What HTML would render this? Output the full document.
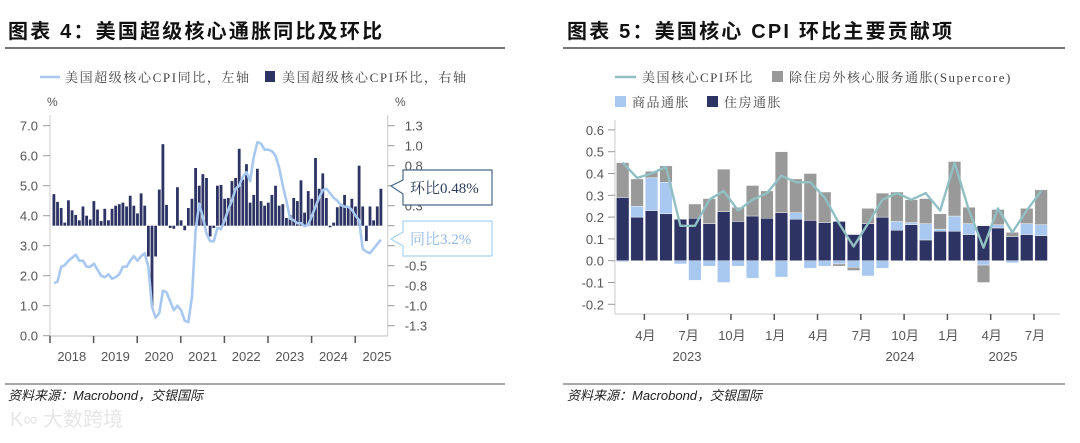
<!DOCTYPE html>
<html><head><meta charset="utf-8">
<style>
html,body{margin:0;padding:0;background:#fff;}
body{width:1080px;height:438px;overflow:hidden;font-family:"Liberation Sans","Noto Sans CJK SC",sans-serif;}
svg text{font-family:"Liberation Sans","Noto Sans CJK SC",sans-serif;}
.ser{font-family:"Liberation Serif","Noto Serif CJK SC",serif;}
</style></head>
<body>
<svg id="s" width="1080" height="438" viewBox="0 0 1080 438" xmlns="http://www.w3.org/2000/svg">
  <g>
    <text x="8" y="38" font-size="20" font-weight="bold" letter-spacing="2.2" fill="#111">图表 4：美国超级核心通胀同比及环比</text>
    <line x1="5" y1="48" x2="505" y2="48" stroke="#222" stroke-width="1.2"/>
    <line x1="5" y1="384" x2="505" y2="384" stroke="#888" stroke-width="1.5"/>
    <text x="8" y="400" font-size="13" font-style="italic" fill="#222">资料来源：Macrobond，交银国际</text>
    <text x="10" y="426" font-size="20" fill="#e6e6e6">K∞ 大数跨境</text>
  </g>
  <g>
    <text x="567" y="38" font-size="20" font-weight="bold" letter-spacing="2.2" fill="#111">图表 5：美国核心 CPI 环比主要贡献项</text>
    <line x1="563" y1="48" x2="1065" y2="48" stroke="#222" stroke-width="1.2"/>
    <line x1="563" y1="384" x2="1065" y2="384" stroke="#888" stroke-width="1.5"/>
    <text x="567" y="400" font-size="13" font-style="italic" fill="#222">资料来源：Macrobond，交银国际</text>
  </g>
  <g id="left"></g>
  <g id="right"></g>
</svg>
<script>
// ---------- Left chart data ----------
const leftYears = ["2018","2019","2020","2021","2022","2023","2024","2025"];
const leftTicksL = ["0.0","1.0","2.0","3.0","4.0","5.0","6.0","7.0"];
const leftTicksR = ["-1.3","-1.0","-0.8","-0.5","-0.3","0.0","0.3","0.5","0.8","1.0","1.3"];
const superMoM = [
 0.41,0.31,0.23,0.04,0.33,0.20,0.14,0.07,0.25,0.13,0.08,0.32,
 0.21,0.06,0.22,0.07,0.22,0.26,0.28,0.30,0.25,0.39,0.26,0.16,
 0.42,0.26,-0.40,-1.05,-0.40,0.47,1.06,0.27,-0.03,-0.04,0.50,0.07,
 -0.06,0.23,0.35,0.75,0.52,0.67,0.62,-0.14,-0.03,0.52,0.53,0.35,
 0.36,0.58,0.62,1.00,0.60,0.80,0.30,0.40,0.74,0.32,0.26,0.30,
 0.40,0.52,0.26,0.28,0.10,0.14,0.36,0.32,0.59,0.17,0.45,0.35,
 0.88,0.48,0.68,0.36,-0.02,0.04,0.24,0.27,0.40,0.24,0.35,0.25,
 0.78,0.25,-0.20,0.25,0.07,0.25,0.48];
const superYoY = [
 1.75,1.8,2.3,2.35,2.5,2.6,2.7,2.5,2.5,2.3,2.3,2.4,
 2.2,2.0,1.95,2.05,1.9,1.95,2.05,2.3,2.3,2.5,2.65,2.5,
 2.65,2.75,2.3,0.95,0.6,0.75,1.5,1.45,1.15,0.85,1.0,0.85,
 0.5,0.45,1.3,3.5,4.4,3.95,3.4,3.15,3.15,3.6,3.55,3.85,
 4.2,4.5,4.9,5.0,5.3,5.45,5.15,5.95,6.45,6.4,6.2,6.2,
 6.15,6.0,5.6,5.0,4.5,3.9,3.85,3.75,3.75,3.65,3.7,4.0,
 4.3,4.6,4.85,4.9,4.75,4.6,4.5,4.35,4.3,4.3,4.2,4.0,
 3.85,2.9,2.8,2.75,2.9,3.05,3.2];

// ---------- Right chart data ----------
const rightMonths = ["4月","7月","10月","1月","4月","7月","10月","1月","4月","7月"];
const rightYears = ["2023","2024","2025"];
const rightTicks = ["-0.2","-0.1","0.0","0.1","0.2","0.3","0.4","0.5","0.6"];
const housing = [0.29,0.20,0.23,0.215,0.19,0.195,0.17,0.225,0.18,0.205,0.195,0.22,0.19,0.185,0.175,0.18,0.12,0.17,0.20,0.14,0.165,0.095,0.135,0.135,0.12,0.16,0.15,0.11,0.12,0.115];
const goods   = [-0.005,0.05,0.15,0.145,-0.015,-0.09,-0.025,-0.10,-0.025,-0.08,0.0,-0.075,0.03,-0.035,-0.025,-0.015,-0.03,-0.07,-0.035,0.04,0.01,0.075,0.01,0.07,0.05,-0.02,0.015,-0.01,0.05,0.05];
const supercore=[0.16,0.125,0.03,0.075,0.0,0.065,0.115,0.195,0.065,0.14,0.125,0.28,0.155,0.215,0.14,-0.01,-0.015,0.07,0.11,0.135,0.105,0.115,0.07,0.25,0.075,-0.08,0.07,0.02,0.07,0.16];
const coreMoM = [0.45,0.38,0.40,0.43,0.16,0.16,0.28,0.32,0.23,0.28,0.31,0.39,0.36,0.36,0.29,0.17,0.065,0.17,0.28,0.31,0.28,0.31,0.23,0.45,0.23,0.06,0.24,0.13,0.23,0.32];

const NS="http://www.w3.org/2000/svg";
function mk(parent, tag, attrs, text){
  const e=document.createElementNS(NS,tag);
  for(const k in attrs) e.setAttribute(k,attrs[k]);
  if(text!==undefined) e.textContent=text;
  parent.appendChild(e); return e;
}

// ===== LEFT =====
(function(){
  const g=document.getElementById('left');
  const x0=50, x1=387.7, yTop=115, yBot=336;
  const monthW=43.6/12;
  const xm=i=>x0+3.9+i*monthW;
  const yL=v=>335.7-v*30;
  const yR=v=>225.7-v*(20/0.26);
  const lg=mk(g,'g',{});
  
  
  mk(lg,'line',{x1:40,y1:77,x2:60,y2:77,stroke:'#a9c8f0','stroke-width':2.5});
  mk(lg,'text',{x:65,y:82,'font-size':13,fill:'#444','class':'ser','letter-spacing':1.6},'美国超级核心CPI同比，左轴');
  mk(lg,'rect',{x:265,y:71,width:10,height:11,fill:'#2d3463'});
  mk(lg,'text',{x:282,y:82,'font-size':13,fill:'#444','class':'ser','letter-spacing':1.6},'美国超级核心CPI环比，右轴');
  mk(g,'text',{x:47,y:106,'font-size':12,fill:'#555'},'%');
  mk(g,'text',{x:395,y:106,'font-size':12,fill:'#555'},'%');
  mk(g,'line',{x1:x0,y1:yTop,x2:x0,y2:yBot,stroke:'#ccc'});
  mk(g,'line',{x1:x1,y1:yTop,x2:x1,y2:yBot,stroke:'#ccc'});
  mk(g,'line',{x1:x0,y1:yBot,x2:x1,y2:yBot,stroke:'#bbb'});
  leftTicksL.forEach((t,i)=>{
    const y=yL(parseFloat(t));
    mk(g,'line',{x1:x0-7,y1:y,x2:x0,y2:y,stroke:'#999'});
    const tx=mk(g,'text',{x:x0-12,y:y+5,'font-size':13,fill:'#555','text-anchor':'end'},t);
    
    
  });
  leftTicksR.forEach((t,i)=>{
    const y=125.7+ (10-i)*20;
    mk(g,'line',{x1:x1,y1:y,x2:x1+7,y2:y,stroke:'#999'});
    const tx=mk(g,'text',{x:x1+17,y:y+5,'font-size':13,fill:'#555'},t);
    
    
  });
  leftYears.forEach((yr,i)=>{
    const xt=x0+i*43.6;
    mk(g,'line',{x1:xt,y1:yBot,x2:xt,y2:yBot+7,stroke:'#555','stroke-width':1.5});
    const tx=mk(g,'text',{x:xt+21.8,y:361,'font-size':13,fill:'#555','text-anchor':'middle'},yr);
    
    
  });
  superMoM.forEach((v,i)=>{
    const y=yR(v), y0=yR(0);
    const r=mk(g,'rect',{x:xm(i)-1.4,y:Math.min(y,y0),width:2.8,height:Math.max(0.8,Math.abs(y-y0)),fill:'#2d3463'});
    
    
  });
  const pts=superYoY.map((v,i)=>xm(i).toFixed(1)+','+yL(v).toFixed(1)).join(' ');
  const pl=mk(g,'polyline',{points:pts,fill:'none',stroke:'#a9c8f0','stroke-width':2.6,'stroke-linejoin':'round'});
  
  
  const c1=mk(g,'g',{});
  
  
  mk(c1,'path',{d:'M403,170 H492 V205 H403 V194 L391,186 L403,180 Z',fill:'#fff',stroke:'#4a6a8a','stroke-width':1.2});
  mk(c1,'text',{x:410,y:193,'font-size':15,fill:'#2d3e5a','class':'ser'},'环比0.48%');
  const c2=mk(g,'g',{});
  
  
  mk(c2,'path',{d:'M403,221 H492 V256 H403 V246 L391,239 L403,232 Z',fill:'#fff',stroke:'#a9d3f0','stroke-width':1.2});
  mk(c2,'text',{x:410,y:244,'font-size':15,fill:'#8fb8e6','class':'ser'},'同比3.2%');
})();

// ===== RIGHT =====
(function(){
  const g=document.getElementById('right');
  const x0=615, x1=1060, yTop=120, yBot=314;
  const xb=i=>622.7+i*14.43;
  const y=v=>260.7-v*218;
  const lg=mk(g,'g',{});
  
  
  mk(lg,'line',{x1:615,y1:77,x2:636,y2:77,stroke:'#91c0c4','stroke-width':2.5});
  mk(lg,'text',{x:642,y:82,'font-size':13,fill:'#444','class':'ser','letter-spacing':1.5},'美国核心CPI环比');
  mk(lg,'rect',{x:772,y:71,width:11,height:11,fill:'#999'});
  mk(lg,'text',{x:789,y:82,'font-size':13,fill:'#444','class':'ser','letter-spacing':1.5},'除住房外核心服务通胀(Supercore)');
  mk(lg,'rect',{x:615,y:96,width:11,height:11,fill:'#a9c8f0'});
  mk(lg,'text',{x:632,y:107,'font-size':13,fill:'#444','class':'ser','letter-spacing':1.5},'商品通胀');
  mk(lg,'rect',{x:707,y:96,width:11,height:11,fill:'#2d3463'});
  mk(lg,'text',{x:724,y:107,'font-size':13,fill:'#444','class':'ser','letter-spacing':1.5},'住房通胀');
  mk(g,'line',{x1:x0,y1:yTop,x2:x0,y2:yBot,stroke:'#ccc'});
  mk(g,'line',{x1:x0,y1:yBot,x2:x1,y2:yBot,stroke:'#ccc'});
  rightTicks.forEach(t=>{
    const yy=y(parseFloat(t));
    mk(g,'line',{x1:x0-7,y1:yy,x2:x0,y2:yy,stroke:'#999'});
    const tx=mk(g,'text',{x:x0-11,y:yy+5,'font-size':13,fill:'#555','text-anchor':'end'},t);
    
    
  });
  rightMonths.forEach((m,i)=>{
    const xt=xb(2+3*i)-7.2;
    mk(g,'line',{x1:xt,y1:yBot,x2:xt,y2:yBot+6,stroke:'#555','stroke-width':1.5});
    const tx=mk(g,'text',{x:xt+1,y:340,'font-size':13,fill:'#555','text-anchor':'middle'},m);
    
    
  });
  const yrX=[687,900,1003];
  rightYears.forEach((yr,i)=>{
    const tx=mk(g,'text',{x:yrX[i],y:361,'font-size':13,fill:'#555','text-anchor':'middle'},yr);
    
    
  });
  const w=12.6;
  housing.forEach((h,i)=>{
    let pos=0, neg=0;
    const parts=[[h,'#2d3463','housing-bar'],[goods[i],'#a9c8f0','goods-bar'],[supercore[i],'#999','supercore-bar']];
    parts.forEach(p=>{
      const v=p[0]; let a,b;
      if(v>=0){a=pos;b=pos+v;pos=b;} else {a=neg;b=neg+v;neg=b;}
      const r=mk(g,'rect',{x:xb(i)-w/2,y:Math.min(y(a),y(b)),width:w,height:Math.abs(y(b)-y(a)),fill:p[1],stroke:'#fff','stroke-width':0.4});
      
      
    });
  });
  const pts=coreMoM.map((v,i)=>xb(i).toFixed(1)+','+y(v).toFixed(1)).join(' ');
  const pl=mk(g,'polyline',{points:pts,fill:'none',stroke:'#91c0c4','stroke-width':2.4,'stroke-linejoin':'round'});
  
  
})();
</script>
</body></html>
